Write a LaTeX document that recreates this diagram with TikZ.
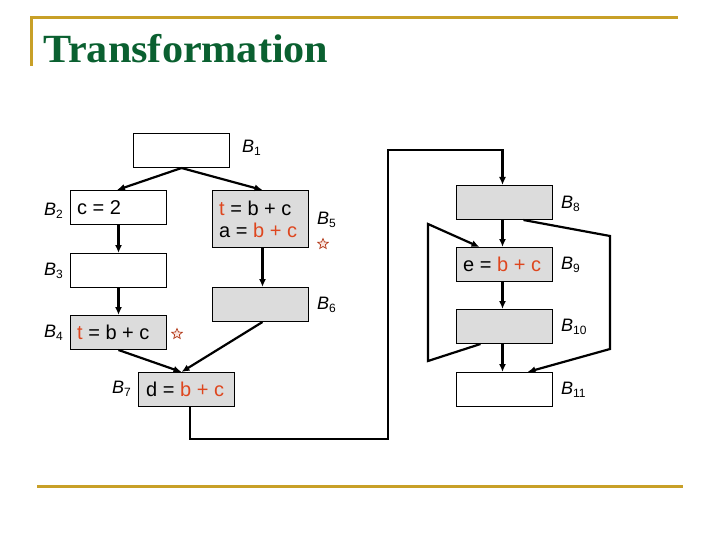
\documentclass[tikz,border=0pt]{standalone}
\usepackage{fontspec}
\setmainfont{Liberation Sans}
\newfontfamily\titlefont{Liberation Serif}
\usetikzlibrary{arrows.meta,shapes.geometric}
\definecolor{gold}{RGB}{200,160,40}
\definecolor{tgreen}{RGB}{10,96,48}
\definecolor{hred}{RGB}{222,70,30}
\definecolor{boxgray}{RGB}{220,220,220}
\tikzset{
  blk/.style={draw=black, line width=1pt, anchor=north west, minimum width=96pt, minimum height=34pt, inner sep=0pt},
  gblk/.style={blk, fill=boxgray},
  txt/.style={anchor=west, inner sep=0pt, align=left, font=\fontsize{20}{23}\selectfont},
  lbl/.style={anchor=west, inner sep=0pt, font=\fontsize{18}{20}\selectfont},
  arr/.style={line width=2.2pt, -{Latex[length=8pt,width=7pt]}},
  mark star/.style={star, star points=5, star point ratio=2.2, draw=hred!80!black, fill=hred!15, line width=0.7pt, minimum size=11pt, inner sep=0pt},
  goldline/.style={gold, line width=3pt}
}
\newcommand{\hr}[1]{\textcolor{hred}{#1}}
\newcommand{\blab}[1]{\textit{B}\textsubscript{\fontsize{12}{12}\selectfont #1}}
\begin{document}
\begin{tikzpicture}[x=1pt,y=-1pt]
\useasboundingbox (0,0) rectangle (720,540);
% header
\draw[goldline] (30,18) -- (678,18);
\draw[goldline] (31,17) -- (31,66);
\draw[goldline] (37,486) -- (683,486);
\node[anchor=base west, inner sep=0pt, text=tgreen, xscale=1.055, font=\titlefont\bfseries\fontsize{40}{44}\selectfont] (title) at (43,63) {Transformation};
% blocks
\node[blk] (b1) at (133,133) {};
\node[blk] (b2) at (70,190) {};
\node[gblk, minimum height=57pt] (b5) at (212,190) {};
\node[blk] (b3) at (70,253) {};
\node[gblk] (b6) at (212,287) {};
\node[gblk] (b4) at (70,315) {};
\node[gblk] (b7) at (138,372) {};
\node[gblk] (b8) at (456,185) {};
\node[gblk] (b9) at (456,247) {};
\node[gblk] (b10) at (456,309) {};
\node[blk] (b11) at (456,372) {};
% block contents
\node[txt] (t2) at ([xshift=7pt]b2.west) {c = 2};
\node[txt] (t5) at ([xshift=7pt]b5.west) {\hr{t} = b + c\\[-1pt] a = \hr{b + c}};
\node[txt] (t4) at ([xshift=7pt]b4.west) {\hr{t} = b + c};
\node[txt] (t7) at ([xshift=8pt]b7.west) {d = \hr{b + c}};
\node[txt] (t9) at ([xshift=7pt]b9.west) {e = \hr{b + c}};
% labels
\node[lbl] (l1) at (242,148) {\blab{1}};
\node[lbl] (l2) at (44,211) {\blab{2}};
\node[lbl] (l5) at (317,220) {\blab{5}};
\node[lbl] (l3) at (44,271) {\blab{3}};
\node[lbl] (l6) at (317,305) {\blab{6}};
\node[lbl] (l4) at (44,333) {\blab{4}};
\node[lbl] (l7) at (112,389) {\blab{7}};
\node[lbl] (l8) at (561,204) {\blab{8}};
\node[lbl] (l9) at (561,265) {\blab{9}};
\node[lbl] (l10) at (561,327) {\blab{10}};
\node[lbl] (l11) at (561,390) {\blab{11}};
% stars
\node[mark star] (s5) at (323,244) {};
\node[mark star] (s4) at (177,334) {};
% connectors
\draw[arr] (b1.south) -- ([xshift=-1.5pt]b2.north);
\draw[arr] (b1.south) -- ([xshift=2pt]b5.north);
\draw[arr] (b2.south) -- (b3.north);
\draw[arr] (b3.south) -- (b4.north);
\draw[arr] ([xshift=2pt]b5.south) -- ([xshift=2pt]b6.north);
\draw[arr] (b4.south) -- ([xshift=-5pt]b7.north);
\draw[arr] ([xshift=2pt]b6.south) -- ([xshift=-5pt]b7.north);
\coordinate (p2) at (388,439);
\coordinate (p3) at (388,150);
\draw[arr] ([xshift=3.5pt]b7.south) |- (p2) -- (p3) -| ([xshift=-2pt]b8.north);
\draw[arr] ([xshift=-2pt]b8.south) -- ([xshift=-2pt]b9.north);
\draw[arr] ([xshift=-2pt]b9.south) -- ([xshift=-2pt]b10.north);
\draw[arr] ([xshift=-2pt]b10.south) -- ([xshift=-2pt]b11.north);
\coordinate (q1) at (610,236);
\coordinate (q2) at (610,349);
\draw[arr] ([xshift=19pt]b8.south) -- (q1) -- (q2) -- ([xshift=23pt]b11.north);
\coordinate (r1) at (428,361);
\coordinate (r2) at (428,224);
\draw[arr] ([xshift=-24pt]b10.south) -- (r1) -- (r2) -- ([xshift=-25pt]b9.north);
\end{tikzpicture}
\end{document}
